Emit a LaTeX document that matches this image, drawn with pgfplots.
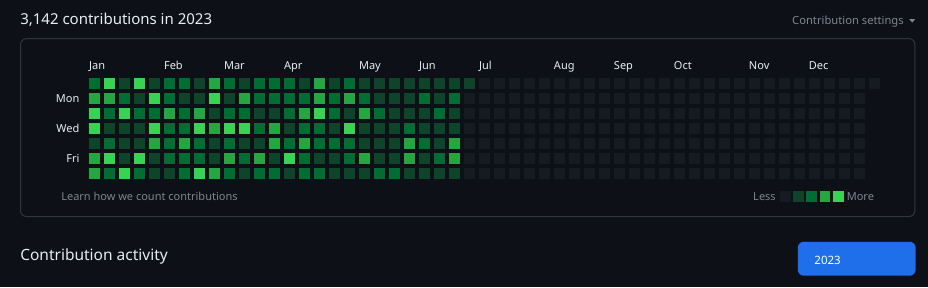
\documentclass[border=0pt]{standalone}
\usepackage{pgfplots}
\pgfplotsset{compat=1.18}
\usepackage{pgfplotstable}
\usepackage{fontspec}
\setmainfont{Noto Sans}
\definecolor{bg}{HTML}{0D1117}
\definecolor{bordercol}{HTML}{30363D}
\definecolor{fg}{HTML}{E6EDF3}
\definecolor{muted}{HTML}{7D8590}
\definecolor{lz}{HTML}{161B22}
\definecolor{la}{HTML}{0E4429}
\definecolor{lb}{HTML}{006D32}
\definecolor{lc}{HTML}{26A641}
\definecolor{ld}{HTML}{39D353}
\definecolor{btn}{HTML}{1F6FEB}

% contribution level per week (w) and weekday (d0=Sun ... d6=Sat)
\pgfplotstableread{
w d0 d1 d2 d3 d4 d5 d6
0 2 3 4 4 1 3 3
1 4 3 2 1 2 4 2
2 1 2 4 1 1 1 4
3 4 1 2 1 1 4 2
4 1 4 2 4 3 1 1
5 2 2 3 2 2 2 1
6 2 1 2 2 3 2 2
7 1 1 3 4 2 2 4
8 3 4 1 3 1 1 3
9 2 1 2 4 2 3 2
10 1 3 2 4 1 2 1
11 2 2 1 2 1 3 2
12 2 2 1 3 3 1 2
13 2 2 2 1 2 4 1
14 1 2 3 2 3 2 2
15 3 3 4 2 2 1 2
16 1 2 2 1 2 1 1
17 2 3 1 4 2 2 1
18 1 2 3 1 1 3 1
19 1 1 2 1 1 1 2
20 1 1 1 1 1 1 2
21 1 1 1 2 3 3 1
22 1 2 1 1 2 1 1
23 1 1 2 1 1 2 1
24 1 2 1 1 3 3 1
25 1 0 0 0 0 0 0
26 0 0 0 0 0 0 0
27 0 0 0 0 0 0 0
28 0 0 0 0 0 0 0
29 0 0 0 0 0 0 0
30 0 0 0 0 0 0 0
31 0 0 0 0 0 0 0
32 0 0 0 0 0 0 0
33 0 0 0 0 0 0 0
34 0 0 0 0 0 0 0
35 0 0 0 0 0 0 0
36 0 0 0 0 0 0 0
37 0 0 0 0 0 0 0
38 0 0 0 0 0 0 0
39 0 0 0 0 0 0 0
40 0 0 0 0 0 0 0
41 0 0 0 0 0 0 0
42 0 0 0 0 0 0 0
43 0 0 0 0 0 0 0
44 0 0 0 0 0 0 0
45 0 0 0 0 0 0 0
46 0 0 0 0 0 0 0
47 0 0 0 0 0 0 0
48 0 0 0 0 0 0 0
49 0 0 0 0 0 0 0
50 0 0 0 0 0 0 0
51 0 0 0 0 0 0 0
}\contrib

\begin{document}
\begin{tikzpicture}
\begin{axis}[
  scale only axis, width=928pt, height=287pt,
  xmin=-6.2867, xmax=55.58, ymin=-13.58, ymax=5.5533,
  axis background/.style={fill=bg},
  axis line style={draw=none}, major tick length=0pt,
  xtick={0,5,9,13,18,22,26,31,35,39,44,48},
  xticklabels={Jan,Feb,Mar,Apr,May,Jun,Jul,Aug,Sep,Oct,Nov,Dec},
  xticklabel pos=upper,
  xticklabel style={anchor=base west, inner sep=0pt, xshift=-5.5pt, yshift=-69pt},
  ytick={-1,-3,-5}, yticklabels={Mon,Wed,Fri},
  yticklabel style={anchor=east, inner sep=0pt, xshift=79.5pt},
  tick label style={text=fg, font=\fontsize{11}{13}\selectfont},
  clip=false,
  scatter/classes={
    0={mark=square*, draw=lz, fill=lz, rounded corners=1.8pt},
    1={mark=square*, draw=la, fill=la, rounded corners=1.8pt},
    2={mark=square*, draw=lb, fill=lb, rounded corners=1.8pt},
    3={mark=square*, draw=lc, fill=lc, rounded corners=1.8pt},
    4={mark=square*, draw=ld, fill=ld, rounded corners=1.8pt}
  },
  every axis plot/.append style={only marks, scatter, point meta=explicit symbolic, mark size=5.3pt},
]
% frame, headings and texts (positions in axis units: 1 unit = 15px)
\draw[bordercol, line width=1pt, rounded corners=6pt] (axis cs:-4.92,2.9867) rectangle (axis cs:54.713,-8.88);
\node[anchor=base west, inner sep=0pt, text=fg, font=\fontsize{15}{18}\selectfont] at (axis cs:-4.9533,3.9333) {3,142 contributions in 2023};
\node[anchor=base east, inner sep=0pt, text=muted, font=\fontsize{11.2}{14}\selectfont] at (axis cs:53.98,3.9533) {Contribution settings};
\fill[muted] (axis cs:54.333,4.2867) -- (axis cs:54.733,4.2867) -- (axis cs:54.533,4.0533) -- cycle;
\node[anchor=west, inner sep=0pt, text=muted, font=\fontsize{11}{13}\selectfont] at (axis cs:-2.22,-7.56) {Learn how we count contributions};
\node[anchor=east, inner sep=0pt, text=muted, font=\fontsize{11}{13}\selectfont] at (axis cs:45.447,-7.5467) {Less};
\node[anchor=west, inner sep=0pt, text=muted, font=\fontsize{11}{13}\selectfont] at (axis cs:50.16,-7.5467) {More};
\node[anchor=base west, inner sep=0pt, text=fg, font=\fontsize{15.5}{18}\selectfont] at (axis cs:-4.9533,-11.8267) {Contribution activity};
\fill[btn, rounded corners=6pt] (axis cs:46.907,-10.56) rectangle (axis cs:54.76,-12.8267);
\node[anchor=base west, inner sep=0pt, text=white, font=\fontsize{11.5}{14}\selectfont] at (axis cs:48.0,-12.0467) {2023};
% calendar cells
\addplot table[x=w, y expr=0, meta=d0] {\contrib};
\addplot table[x=w, y expr=-1, meta=d1] {\contrib};
\addplot table[x=w, y expr=-2, meta=d2] {\contrib};
\addplot table[x=w, y expr=-3, meta=d3] {\contrib};
\addplot table[x=w, y expr=-4, meta=d4] {\contrib};
\addplot table[x=w, y expr=-5, meta=d5] {\contrib};
\addplot table[x=w, y expr=-6, meta=d6] {\contrib};
\addplot coordinates {(52,0) [0]};
% legend swatches
\addplot[mark size=4.8pt] coordinates {(46.05,-7.527) [0] (46.93,-7.527) [1] (47.81,-7.527) [2] (48.70,-7.527) [3] (49.58,-7.527) [4]};
\end{axis}
\end{tikzpicture}
\end{document}
